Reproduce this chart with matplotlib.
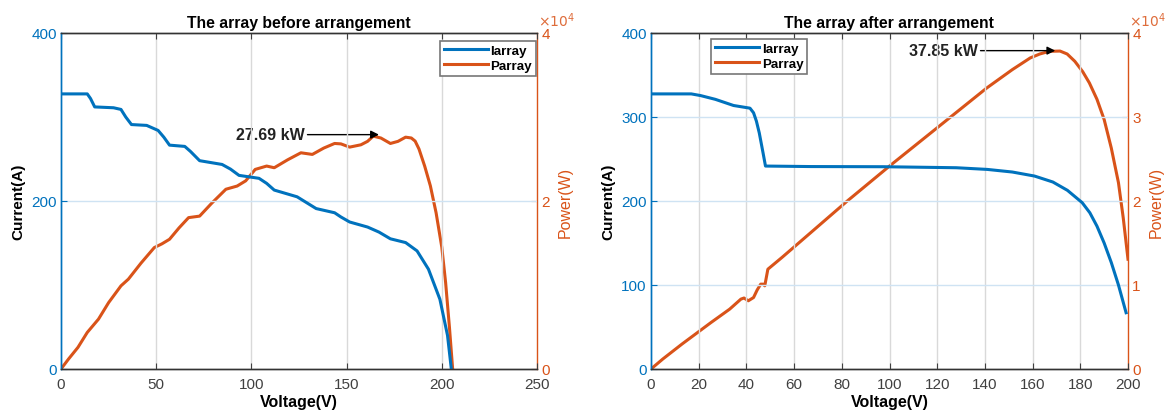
import matplotlib
matplotlib.use("Agg")
import matplotlib.pyplot as plt

plt.rcParams['font.family'] = ['Liberation Sans', 'DejaVu Sans']

BLUE = '#0072BD'
ORANGE = '#D95319'
DARK = '#404040'

# ---------------- data: before arrangement ----------------
v_i_before = [0, 13.8, 15.5, 17.7, 27.6, 31.5, 34, 37, 45, 51, 54, 57, 65, 68, 72.8, 84.6, 89, 93.5,
              104, 108, 112, 124, 129, 134, 143.7, 147, 151.6, 161, 167, 173, 181, 187, 193, 199, 203, 205]
i_before = [327.5, 327.5, 322, 312, 311, 309, 300, 291, 290, 284, 276, 266.5, 265, 259, 248, 243.5, 238, 230.5,
            227, 221, 213, 205, 198, 191, 186, 181, 175, 169, 163, 155, 150.5, 140.6, 118.8, 83, 40, 0]

v_p_before = [0, 4, 8.9, 13.8, 19.7, 25, 31.5, 35.4, 42, 49, 53, 57, 62, 67, 72.8, 79, 86.6, 92.5,
              97, 102, 108, 112, 119, 126, 132, 138, 143.7, 147, 151.6, 157.5, 161, 164, 168, 173,
              177, 181, 184, 186, 188, 191, 194, 197, 200, 202, 204, 205.7]
p_before = [0, 1200, 2574, 4356, 5940, 7900, 9900, 10700, 12600, 14455, 14900, 15445, 16800, 18020, 18200,
            19700, 21400, 21780, 22400, 23760, 24160, 23960, 24900, 25740, 25545, 26300, 26850, 26800,
            26415, 26690, 27100, 27720, 27500, 26850, 27100, 27600, 27500, 27130, 26200, 24160, 21800,
            18600, 14500, 10300, 5000, 0]

# ---------------- data: after arrangement ----------------
v_i_after = [0, 16.9, 20.8, 27, 34.6, 41.5, 43, 44.2, 45.4, 47, 48, 67, 97.7, 128, 141, 151.5, 160.8,
             168.5, 174.6, 180.8, 184, 187, 190, 193, 196, 199.2]
i_after = [327.5, 327.5, 325.5, 321, 313.7, 310.5, 305, 295, 281, 257, 241.6, 241, 240.8, 239.6, 237.6,
           234.5, 229.7, 222.6, 212.7, 198, 186, 170, 150, 126.7, 100, 67]

v_p_after = [0, 5, 13, 17.7, 25, 33, 37.7, 39, 40.8, 43, 44.5, 46, 47, 47.7, 49, 55, 67, 82.3, 100,
             120.8, 140.8, 151.5, 159, 163, 167, 171.5, 174.5, 177.7, 181, 183.8, 187, 190, 193, 196,
             198, 200]
p_after = [0, 1200, 2970, 3960, 5500, 7130, 8320, 8450, 8120, 8510, 9400, 10100, 10100, 9900, 11880, 13300,
           16240, 20000, 24160, 28900, 33460, 35640, 37030, 37500, 37820, 37850, 37500, 36630, 35400, 34060,
           32100, 29700, 26300, 22180, 18000, 13070]

panels = [
    dict(title='The array before arrangement', vi=v_i_before, i=i_before, vp=v_p_before, p=p_before,
         xlim=(0, 250), xticks=[0, 50, 100, 150, 200, 250], yticks=[0, 200, 400], pticks=[0, 20000, 40000],
         ptick_labels=['0', '2', '4'], ann='27.69 kW', ann_xy=(167, 27900), ann_text=(128, 27900),
         legend_loc=(0.796, 0.872)),
    dict(title='The array after arrangement', vi=v_i_after, i=i_after, vp=v_p_after, p=p_after,
         xlim=(0, 200), xticks=list(range(0, 201, 20)), yticks=[0, 100, 200, 300, 400],
         pticks=[0, 10000, 20000, 30000, 40000], ptick_labels=['0', '1', '2', '3', '4'],
         ann='37.85 kW', ann_xy=(169.5, 37900), ann_text=(137, 37900), legend_loc=(0.126, 0.878)),
]

fig = plt.figure(figsize=(11.66, 4.14), dpi=100)
lefts = [61 / 1166, 651 / 1166]
widths = [476 / 1166, 477 / 1166]
for k, pn in enumerate(panels):
    ax = fig.add_axes([lefts[k], 1 - 370 / 414, widths[k], 336 / 414])
    ax2 = ax.twinx()
    ax.set_zorder(ax2.get_zorder() + 1)
    ax.patch.set_visible(False)

    l1, = ax.plot(pn['vi'], pn['i'], color=BLUE, lw=2.2, label='Iarray')
    l2, = ax2.plot(pn['vp'], pn['p'], color=ORANGE, lw=2.2, label='Parray')

    ax.set_xlim(*pn['xlim'])
    ax.set_ylim(0, 400)
    ax2.set_ylim(0, 40000)
    ax.set_xticks(pn['xticks'])
    ax.set_yticks(pn['yticks'])
    ax2.set_yticks(pn['pticks'])
    ax2.set_yticklabels(pn['ptick_labels'])

    for xv in pn['xticks'][1:-1]:
        ax.axvline(xv, color='#d9d9d9', lw=1.0, zorder=0)
    for yv in pn['yticks'][1:-1]:
        ax.axhline(yv, color='#cfe3f3', lw=1.0, zorder=0)

    ax.tick_params(axis='y', colors=BLUE, labelsize=11, direction='in', length=4, pad=3)
    ax.tick_params(axis='x', colors=DARK, labelsize=11, direction='in', length=4, top=True, pad=6)
    ax2.tick_params(axis='y', colors=ORANGE, labelsize=11, direction='in', length=4, pad=3)
    ax.spines['left'].set_color(BLUE)
    ax2.spines['left'].set_color(BLUE)
    ax2.spines['right'].set_color(ORANGE)
    ax.spines['right'].set_visible(False)
    for a in (ax, ax2):
        a.spines['top'].set_color('#333333')
        a.spines['bottom'].set_color('#333333')
        for s in a.spines.values():
            s.set_linewidth(1.0)

    ax.set_xlabel('Voltage(V)', fontsize=11.5, fontweight='bold', labelpad=2)
    ax.set_ylabel('Current(A)', fontsize=11, fontweight='bold', labelpad=4)
    ax2.set_ylabel('Power(W)', fontsize=11.5, color=ORANGE, labelpad=6)
    ax.set_title(pn['title'], fontsize=11.3, fontweight='bold', pad=4)

    ax2.text(1.003, 1.012, r'$\times10^4$', transform=ax2.transAxes, color=ORANGE, fontsize=10,
             ha='left', va='bottom', alpha=0.85)

    ax2.annotate(pn['ann'], xy=pn['ann_xy'], xytext=pn['ann_text'], fontsize=11.5, fontweight='bold',
                 ha='right', va='center', color='#222222',
                 arrowprops=dict(arrowstyle='-|>', color='black', lw=1.0, mutation_scale=12,
                                 shrinkA=0, shrinkB=0))

    leg = ax.legend(handles=[l1, l2], loc='lower left', bbox_to_anchor=pn['legend_loc'],
                    fontsize=9.6, frameon=True, fancybox=False, edgecolor='#777777', framealpha=1,
                    handlelength=3.3, handletextpad=0.2, borderpad=0.3, labelspacing=0.2,
                    borderaxespad=0)
    leg.get_frame().set_linewidth(1.2)
    for t in leg.get_texts():
        t.set_fontweight('bold')

fig.savefig('out.png', dpi=100)
